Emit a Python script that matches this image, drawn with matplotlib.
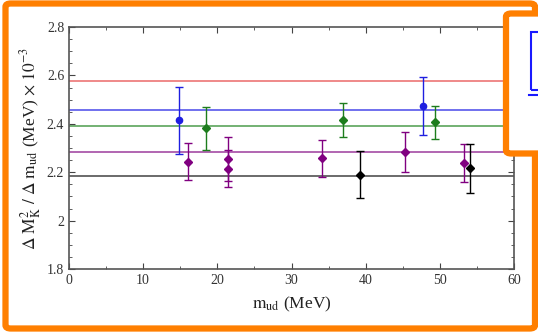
import matplotlib
matplotlib.use('Agg')
import matplotlib.pyplot as plt
from matplotlib.patches import FancyBboxPatch, Rectangle
from matplotlib.lines import Line2D
from matplotlib.ticker import MultipleLocator

# horizontal reference lines
band_colors = ['#e8504f', '#2a2ae6', '#2e8b2e', '#8b1a8b', '#222222']
band_values = [2.575, 2.457, 2.391, 2.282, 2.186]

# data points (m_ud, value, error)
blue_x = [14.8, 47.7]
blue_y = [2.414, 2.474]
blue_err = [0.137, 0.12]

green_x = [18.5, 37.0, 49.3]
green_y = [2.381, 2.416, 2.406]
green_err = [0.09, 0.07, 0.067]

purple_x = [16.1, 21.4, 21.4, 34.1, 45.3, 53.3]
purple_y = [2.243, 2.255, 2.215, 2.257, 2.282, 2.237]
purple_err = [0.077, 0.09, 0.075, 0.077, 0.083, 0.078]

black_x = [39.3, 54.0]
black_y = [2.19, 2.216]
black_err = [0.097, 0.1]

W, H = 538, 332
fig = plt.figure(figsize=(W / 100, H / 100), dpi=100)
plt.rcParams['font.family'] = ['Liberation Serif', 'DejaVu Serif']
plt.rcParams['mathtext.fontset'] = 'stix'

ax = fig.add_axes([69 / W, (H - 269) / H, 445 / W, 242 / H])

for c, v in zip(band_colors, band_values):
    ax.axhline(v, color=c, lw=1.1, alpha=0.85)

ax.errorbar(blue_x, blue_y, yerr=blue_err, fmt='o', color='#1f1fe0',
            ms=4.5, capsize=3, elinewidth=1, capthick=1)
ax.errorbar(green_x, green_y, yerr=green_err, fmt='D', color='#1d7d1d',
            ms=4.2, capsize=3, elinewidth=1, capthick=1)
ax.errorbar(purple_x, purple_y, yerr=purple_err, fmt='D', color='#800080',
            ms=4.2, capsize=3, elinewidth=1, capthick=1)
ax.errorbar(black_x, black_y, yerr=black_err, fmt='D', color='black',
            ms=4.2, capsize=3, elinewidth=1, capthick=1)

ax.set_xlim(0, 60)
ax.set_ylim(1.8, 2.8)
ax.xaxis.set_major_locator(MultipleLocator(10))
ax.xaxis.set_minor_locator(MultipleLocator(5))
ax.yaxis.set_minor_locator(MultipleLocator(0.05))
ax.set_yticks([1.8, 2.0, 2.2, 2.4, 2.6, 2.8])
ax.set_yticklabels(['1.8', '2', '2.2', '2.4', '2.6', '2.8'])
ax.tick_params(which='both', direction='in', top=True, right=True,
               colors='#444444', labelcolor='#333333', labelsize=10)
ax.tick_params(which='major', length=4)
ax.tick_params(which='minor', length=2)
for s in ax.spines.values():
    s.set_color('#555555')
    s.set_linewidth(1.2)

ax.set_xlabel(r'$\mathrm{m}_\mathrm{ud}$ (MeV)', fontsize=12.5,
              color='#222222', labelpad=6)
ax.set_ylabel(r'$\Delta\ \mathrm{M}_\mathrm{K}^2\ /\ \Delta\ \mathrm{m}_\mathrm{ud}$ (MeV) $\times\ 10^{-3}$',
              fontsize=12.5, color='#222222', labelpad=3)

# outer orange frame
orange = '#ff7f00'
fig.patches.append(FancyBboxPatch((5.5 / W, 3.5 / H), 529.5 / W, 325 / H,
                                  boxstyle='round,pad=0,rounding_size=0.01',
                                  transform=fig.transFigure, fill=False,
                                  ec=orange, lw=4.5, zorder=5))

# overlapping box on the right
fig.patches.append(FancyBboxPatch((506 / W, (H - 153.5) / H), 60 / W, 140 / H,
                                  boxstyle='round,pad=0,rounding_size=0.01',
                                  transform=fig.transFigure, fc='white',
                                  ec=orange, lw=4.5, zorder=6))
fig.patches.append(Rectangle((531 / W, (H - 90) / H), 20 / W, 58 / H,
                             transform=fig.transFigure, fill=False,
                             ec='#1a1aff', lw=1.5, zorder=7))
fig.lines.append(Line2D([529 / W, 1], [(H - 95) / H] * 2,
                        transform=fig.transFigure, color='#1a1aff',
                        lw=1.5, zorder=7))

fig.savefig('out.png', dpi=100)
